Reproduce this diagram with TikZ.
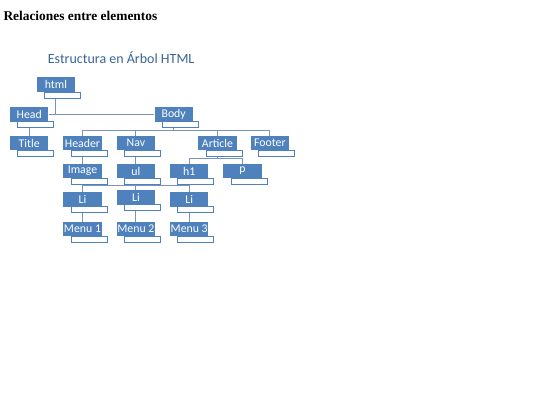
\documentclass[tikz,border=0pt]{standalone}
\usepackage{fontspec}
\setmainfont{Carlito}
\newfontfamily\headfont{Liberation Serif}
\usetikzlibrary{positioning}
\definecolor{boxblue}{RGB}{79,129,189}
\definecolor{lineblue}{RGB}{120,148,190}
\definecolor{titleblue}{RGB}{58,100,148}
\begin{document}
\begin{tikzpicture}[x=1pt,y=-1pt,
	elem/.style={fill=boxblue, text=white, minimum width=38.3pt, minimum height=14.5pt, inner sep=0pt, font=\fontsize{11.8}{12}\selectfont},
	elemtab/.style={draw=boxblue, line width=0.8pt, fill=white, minimum width=36pt, minimum height=6pt, inner sep=0pt, anchor=north west},
	link/.style={draw=lineblue, line width=0.9pt}]
	\useasboundingbox (0,0) rectangle (540,405);
	\node (title) at (3.3,20.7) [anchor=base west, inner sep=0pt, font=\headfont\bfseries\fontsize{13.4}{15}\selectfont] {Relaciones entre elementos};
	\node (subtitle) at (47.7,63.3) [anchor=base west, inner sep=0pt, text=titleblue, font=\fontsize{14}{16}\selectfont] {Estructura en Árbol HTML};
	% boxes
	\node (html) at ( 55.9, 84.7)	[elem]	{html};
	\node (Head) at ( 29.2,114.5)	[elem]	{Head};
	\node (Body) at (173.7,114.5)	[elem]	{Body};
	\node (Title) at ( 29.2,143)	[elem]	{Title};
	\node (Header) at ( 82.5,143)	[elem]	{Header};
	\node (Nav) at (135.9,143)	[elem]	{Nav};
	\node (Article) at (217.5,143)	[elem]	{Article};
	\node (Footer) at (269.9,143)	[elem]	{Footer};
	\node (Image) at ( 82.5,171)	[elem]	{Image};
	\node (ul) at (135.9,171)	[elem]	{ul};
	\node (h1) at (189.2,171)	[elem]	{h1};
	\node (p) at (242.5,171)	[elem]	{p};
	\node (Li1) at ( 82.5,199.5)	[elem]	{Li};
	\node (Li2) at (135.9,197.5)	[elem]	{Li};
	\node (Li3) at (189.2,199.5)	[elem]	{Li};
	\node (Menu1) at ( 82.5,229)	[elem]	{Menu 1};
	\node (Menu2) at (135.9,229)	[elem]	{Menu 2};
	\node (Menu3) at (189.2,229)	[elem]	{Menu 3};
	% connectors
	\draw[link] (html.south) |- (Head.east);
	\draw[link] (Head.east) -- (Body.west);
	\draw[link] (Head.south) -- (Title.north);
	\foreach \c in {Header,Nav,Article,Footer}
		\draw[link] (Body.south) -- ++(0,8.5) -| (\c.north);
	\draw[link] (Header.south) -- (Image.north);
	\draw[link] (Nav.south) -- (ul.north);
	\foreach \c in {h1,p}
		\draw[link] (Article.south) -- ++(0,7.5) -| (\c.north);
	\foreach \c in {Li1,Li2,Li3}
		\draw[link] (ul.south) -- ++(0,7) -| (\c.north);
	\draw[link] (Li1.south) -- (Menu1.north);
	\draw[link] (Li2.south) -- (Menu2.north);
	\draw[link] (Li3.south) -- (Menu3.north);
	% tabs
	\foreach \n in {html,Head,Body,Title,Header,Nav,Article,Footer,Image,ul,h1,p,Li1,Li2,Li3,Menu1,Menu2,Menu3}
		\node (\n-tab) at ([shift={(7.5,-0.5)}]\n.south west) [elemtab] {};
\end{tikzpicture}
\end{document}
